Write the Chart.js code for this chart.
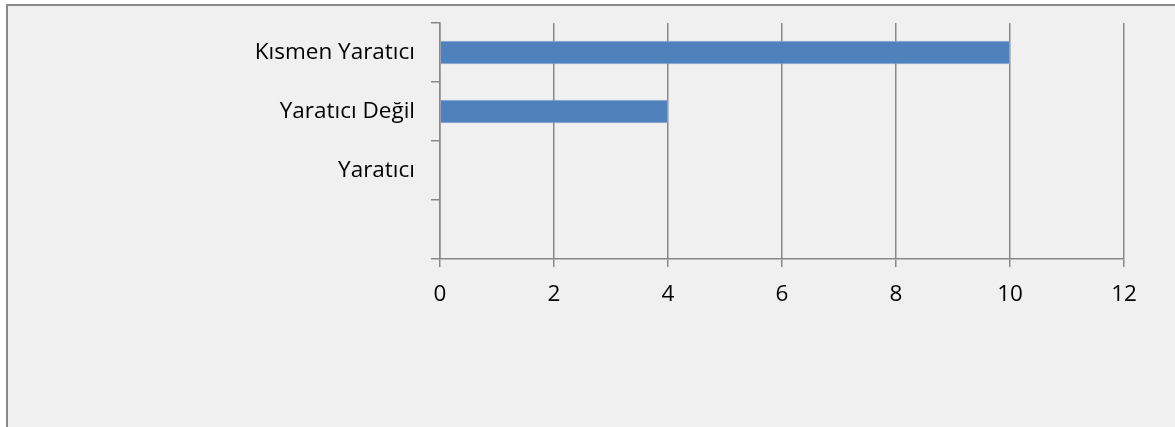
<!DOCTYPE html>
<html>
<head>
<meta charset="utf-8">
<script src="https://cdn.jsdelivr.net/npm/chart.js@4/dist/chart.umd.min.js"></script>
<style>
    html, body { margin: 0; padding: 0; background: #ffffff; }
    #frame {
        position: absolute; left: 6px; top: 4px; width: 1400px; height: 600px;
        background: #f0f0f0; border-left: 2px solid #898989; border-top: 2px solid #898989;
    }
    #wrap { position: absolute; left: 0; top: 0; width: 1175px; height: 427px; }
</style>
</head>
<body>
<div id="frame"></div>
<div id="wrap"><canvas id="myChart" width="1175" height="427"></canvas></div>
<script>
// categories top to bottom; last slot is an empty category
const categories = ['Kısmen Yaratıcı', 'Yaratıcı Değil', 'Yaratıcı', ''];
const counts = [10, 4, 0, null];
const xTicks = [0, 2, 4, 6, 8, 10, 12];

const gridColor = '#888888';
const font = { family: '"Open Sans", sans-serif', size: 22.5 };

const ctx = document.getElementById('myChart').getContext('2d');
new Chart(ctx, {
    type: 'bar',
    data: {
        labels: categories,
        datasets: [
            {
                data: counts,
                backgroundColor: '#4f81bd',
                borderColor: '#7fa3d0',
                borderWidth: 1,
                barPercentage: 0.4,
                categoryPercentage: 1,
            },
        ],
    },
    options: {
        indexAxis: 'y',
        responsive: false,
        animation: false,
        layout: {
            padding: { left: 0, right: 51, top: 23, bottom: 108 },
        },
        plugins: {
            legend: { display: false },
            tooltip: { enabled: false },
        },
        scales: {
            x: {
                type: 'linear',
                min: xTicks[0],
                max: xTicks[xTicks.length - 1],
                afterBuildTicks: (scale) => {
                    scale.ticks = xTicks.map((v) => ({ value: v }));
                },
                afterFit: (scale) => {
                    scale.height = 60;
                },
                grid: {
                    color: gridColor,
                    lineWidth: 1.5,
                    tickLength: 8,
                },
                border: { color: gridColor, width: 1.5 },
                ticks: {
                    color: '#000000',
                    font: font,
                    padding: 14,
                    maxRotation: 0,
                },
            },
            y: {
                offset: true,
                afterFit: (scale) => {
                    scale.width = 440;
                    scale.paddingTop = 0;
                    scale.paddingBottom = 0;
                },
                grid: {
                    offset: true,
                    drawOnChartArea: false,
                    color: gridColor,
                    lineWidth: 1.5,
                    tickLength: 9,
                },
                border: { color: gridColor, width: 1.5 },
                ticks: {
                    color: '#000000',
                    font: font,
                    padding: 16,
                },
            },
        },
    },
});
</script>
</body>
</html>
